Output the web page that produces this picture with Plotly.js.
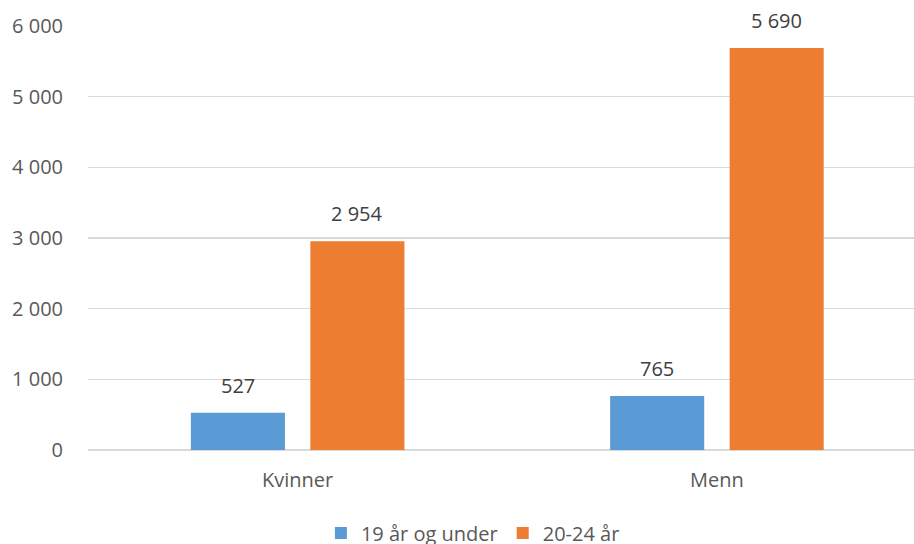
<!DOCTYPE html>
<html>
<head>
<meta charset="utf-8">
<script src="https://cdn.plot.ly/plotly-3.0.1.min.js"></script>
<style>html,body{margin:0;padding:0;background:#fff;}#chart{width:914px;height:544px;}</style>
</head>
<body>
<div id="chart"></div>
<script>
const categories = ["Kvinner", "Menn"];
const seriesNames = ["19 år og under", "20-24 år"];
const under19 = [527, 765];
const age20to24 = [2954, 5690];
const yTicks = [0, 1000, 2000, 3000, 4000, 5000, 6000];

const colors = ["#5B9BD5", "#ED7D31"];
const textColor = "#595959";
const fontFamily = "Open Sans, Noto Sans, sans-serif";

function fmt(v) { return String(v).replace(/\B(?=(\d{3})+(?!\d))/g, " "); }

const allSeries = [under19, age20to24];
const traces = allSeries.map((vals, i) => ({
  type: "bar",
  name: seriesNames[i],
  x: categories,
  y: vals,
  marker: { color: colors[i] },
  hoverinfo: "skip"
}));

// data labels as annotations above each bar
const slotShift = 59.7;
const annotations = [];
allSeries.forEach((vals, i) => {
  vals.forEach((v, j) => {
    annotations.push({
      x: categories[j], y: v, xref: "x", yref: "y",
      text: fmt(v), showarrow: false,
      xshift: (i === 0 ? -1 : 1) * slotShift,
      yanchor: "bottom", yshift: 12,
      font: { family: fontFamily, size: 20, color: "#404040" }
    });
  });
});

const layout = {
  width: 914, height: 544,
  margin: { l: 88, r: 0, t: 26, b: 94, autoexpand: false },
  paper_bgcolor: "#fff", plot_bgcolor: "#fff",
  separators: ", ",
  barmode: "group",
  bargap: 0.43,
  bargroupgap: 0.213,
  showlegend: true,
  legend: {
    orientation: "h", x: 0.466, xanchor: "center", y: -0.196, yanchor: "middle",
    font: { family: fontFamily, size: 20, color: textColor },
    itemwidth: 30, tracegroupgap: 0
  },
  xaxis: {
    type: "category",
    range: [-0.5, 1.47],
    showgrid: false, zeroline: false, showline: false,
    ticks: "outside", ticklen: 12, tickcolor: "rgba(0,0,0,0)",
    tickfont: { family: fontFamily, size: 20, color: textColor },
    fixedrange: true
  },
  yaxis: {
    range: [0, 6000],
    tickvals: yTicks,
    ticktext: yTicks.map(fmt),
    showgrid: true, gridcolor: "#D9D9D9", gridwidth: 1.2,
    zeroline: true, zerolinecolor: "#D9D9D9", zerolinewidth: 1.2,
    showline: false,
    ticks: "outside", ticklen: 20, tickcolor: "rgba(0,0,0,0)",
    tickfont: { family: fontFamily, size: 20, color: textColor },
    fixedrange: true
  },
  annotations: annotations,
  font: { family: fontFamily, color: textColor }
};

Plotly.newPlot("chart", traces, layout, { displayModeBar: false, staticPlot: true });
</script>
</body>
</html>
